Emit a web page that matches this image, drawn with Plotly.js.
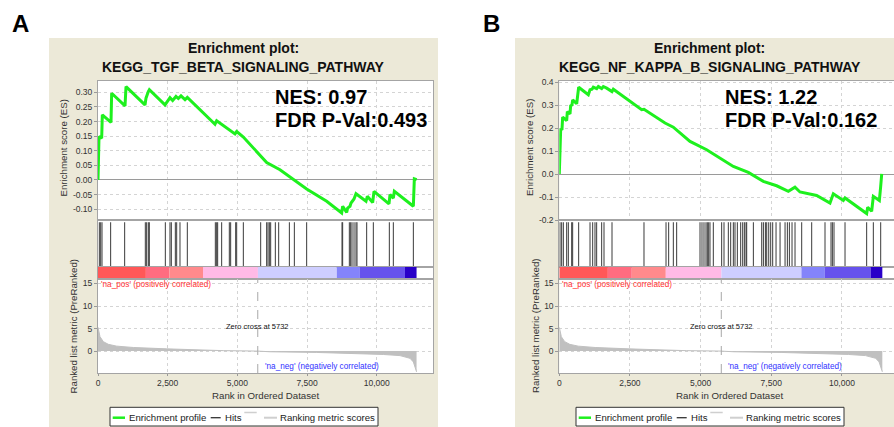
<!DOCTYPE html>
<html><head><meta charset="utf-8">
<script src="https://cdn.plot.ly/plotly-3.0.1.min.js"></script>
<style>html,body{margin:0;padding:0;background:#fff;}#chart{width:894px;height:427px;}</style>
</head><body><div id="chart"></div>
<script>
// ---------------- data ----------------
const panelLetters = ['A', 'B'];
const pathwayNames = ['KEGG_TGF_BETA_SIGNALING_PATHWAY', 'KEGG_NF_KAPPA_B_SIGNALING_PATHWAY'];
const nesValues = ['0.97', '1.22'];
const fdrValues = ['0.493', '0.162'];
const zeroCross = 5732;

const esRankA = [0, 36, 132, 155, 466, 490, 969, 1005, 1686, 1722, 1806, 1842, 2404, 2583, 2679, 2799, 2882, 2978, 3122, 3205, 4198, 4258, 4916, 4976, 5215, 6052, 6530, 7069, 7487, 8205, 8743, 8779, 8922, 8958, 9042, 9078, 9186, 9257, 9616, 9664, 9855, 9903, 10441, 10477, 10597, 10633, 11315, 11350, 11434];
const esScoreA = [0, 0.149, 0.143, 0.223, 0.197, 0.297, 0.254, 0.320, 0.257, 0.280, 0.303, 0.309, 0.257, 0.282, 0.272, 0.286, 0.279, 0.288, 0.275, 0.283, 0.191, 0.203, 0.158, 0.166, 0.147, 0.060, 0.035, -0.001, -0.031, -0.073, -0.113, -0.090, -0.111, -0.096, -0.090, -0.079, -0.065, -0.047, -0.073, -0.056, -0.077, -0.039, -0.082, -0.050, -0.062, -0.039, -0.090, 0.004, 0.001];
const hitsA = [48, 96, 144, 454, 957, 1698, 1746, 1806, 1842, 2416, 2583, 2631, 2775, 2823, 2942, 3205, 4210, 4258, 4294, 4437, 4712, 4760, 4940, 4976, 5215, 5837, 6052, 6100, 6148, 6196, 6363, 6483, 6866, 7045, 7487, 8755, 8779, 9018, 9066, 9114, 9186, 9257, 9293, 9640, 9879, 10453, 10597, 11315];

const esRankB = [0, 25, 48, 96, 119, 261, 284, 379, 402, 449, 473, 615, 685, 1027, 1087, 1157, 1204, 1322, 1381, 1499, 1558, 1676, 1865, 1912, 2915, 2997, 3741, 4034, 4625, 5214, 6158, 6689, 7219, 7691, 8104, 8339, 8516, 9106, 9578, 9696, 10050, 10110, 10876, 10912, 11053, 11112, 11325, 11372, 11408];
const esScoreB = [0, 0.098, 0.193, 0.196, 0.248, 0.233, 0.272, 0.262, 0.297, 0.301, 0.323, 0.306, 0.378, 0.345, 0.367, 0.369, 0.378, 0.372, 0.381, 0.372, 0.381, 0.374, 0.359, 0.369, 0.280, 0.282, 0.222, 0.204, 0.142, 0.106, 0.033, 0.007, -0.032, -0.051, -0.075, -0.057, -0.078, -0.093, -0.126, -0.086, -0.115, -0.104, -0.172, -0.145, -0.162, -0.097, -0.115, -0.054, 0.001];
const hitsB = [25, 84, 143, 261, 320, 438, 473, 685, 1087, 1181, 1263, 1322, 1499, 1582, 1865, 2997, 3776, 3870, 4035, 4153, 4979, 5049, 5120, 5191, 5238, 5285, 5332, 5450, 5745, 5828, 5981, 6064, 6158, 6217, 6300, 6418, 6489, 6548, 6607, 6631, 6867, 7162, 7221, 7292, 7339, 7410, 7480, 7551, 7669, 7811, 7988, 8070, 8141, 8235, 8341, 8577, 8931, 9402, 9614, 9662, 9720, 10110, 10876, 11112, 11372];

const metricRank = [0, 25, 72, 191, 371, 670, 1268, 2464, 3660, 4500, 5732, 6172, 7846, 9401, 10238, 10836, 11195, 11315, 11410, 11430];
const metricValue = [5.3, 4.2, 3.2, 2.1, 1.5, 1.1, 0.8, 0.5, 0.25, 0.1, 0, -0.15, -0.3, -0.5, -0.75, -1.0, -1.6, -2.4, -4.2, -4.6];

const colorBarEdges = [0, 1718, 2565, 3768, 5738, 8568, 9397, 11015, 11430];
const colorBarColors = ['rgb(255,88,88)', 'rgb(255,108,128)', 'rgb(255,138,140)', 'rgb(255,186,230)', 'rgb(206,206,255)', 'rgb(132,132,250)', 'rgb(102,82,236)', 'rgb(40,0,200)'];

const esTickValsA = [-0.10, -0.05, 0, 0.05, 0.10, 0.15, 0.20, 0.25, 0.30];
const esTickTextA = ['-0.10', '-0.05', '0.00', '0.05', '0.10', '0.15', '0.20', '0.25', '0.30'];
const esTickValsB = [-0.2, -0.1, 0, 0.1, 0.2, 0.3, 0.4];
const esTickTextB = ['-0.2', '-0.1', '0.0', '0.1', '0.2', '0.3', '0.4'];
const metricTickVals = [0, 5, 10, 15];
const metricTickText = ['0', '5', '10', '15'];
const rankTickVals = [0, 2500, 5000, 7500, 10000];
const rankTickText = ['0', '2,500', '5,000', '7,500', '10,000'];

// ---------------- layout geometry ----------------
const W = 894, H = 427;
const px = v => v / W;
const py = v => 1 - v / H;
const FONT = 'Liberation Sans, Arial, sans-serif';
const BEIGE = '#ECE9D8';
const FRAME = '#a4a4a4';
const GRID = '#d4d4d4';
const TOP = 81, ES_BOT = 220, HIT_BOT = 267, BAR_BOT = 279, MET_BOT = 373;

const panels = [
  { off: 0, plotL: 98, plotR: 433, xMax: 12020, esRange: [-0.137, 0.339], esTV: esTickValsA, esTT: esTickTextA,
    es: [esRankA, esScoreA], hits: hitsA, mirrorY: true, nesX: 272.7, esTitleX: 63.5, metTitleX: 72.5, letterX: 20.3, xTitleX: 265.5, beigeR: 438 },
  { off: 466, plotL: 559.3, plotR: 894, xMax: 11843, esRange: [-0.2, 0.405], esTV: esTickValsB, esTT: esTickTextB,
    es: [esRankB, esScoreB], hits: hitsB, mirrorY: false, nesX: 722.7, esTitleX: 530, metTitleX: 535, letterX: 491.7, xTitleX: 729, beigeR: 894 }
];

const data = [];
const layout = {
  width: W, height: H, margin: { l: 0, r: 0, t: 0, b: 0 },
  paper_bgcolor: '#ffffff', plot_bgcolor: 'rgba(0,0,0,0)',
  showlegend: false, barmode: 'overlay', font: { family: FONT, color: '#333' },
  shapes: [], annotations: []
};

function ann(o) {
  layout.annotations.push(Object.assign({ showarrow: false, xref: 'paper', yref: 'paper', xanchor: 'center', yanchor: 'middle',
    font: { family: FONT, size: 9.5, color: '#222' } }, o));
}

panels.forEach((p, k) => {
  const b = 4 * k + 1;
  const n = i => (i === 1 ? '' : String(i));
  const xs = [0, 1, 2, 3].map(j => 'x' + n(b + j));
  const ys = [0, 1, 2, 3].map(j => 'y' + n(b + j));
  const dom = [px(p.plotL), px(p.plotR)];
  const yDoms = [[py(ES_BOT), py(TOP)], [py(HIT_BOT), py(ES_BOT)], [py(BAR_BOT), py(HIT_BOT)], [py(MET_BOT), py(BAR_BOT)]];

  // background panels
  layout.shapes.push({ type: 'rect', layer: 'below', xref: 'paper', yref: 'paper', x0: px(49 + p.off), x1: px(p.beigeR), y0: 0, y1: py(38), fillcolor: BEIGE, line: { width: 0 } });
  layout.shapes.push({ type: 'rect', layer: 'below', xref: 'paper', yref: 'paper', x0: px(p.plotL), x1: px(p.plotR), y0: py(MET_BOT), y1: py(TOP), fillcolor: '#ffffff', line: { width: 0 } });

  for (let j = 0; j < 4; j++) {
    const xa = {
      domain: dom, anchor: ys[j], range: [0, p.xMax], showline: true, mirror: true, linecolor: FRAME, linewidth: 1,
      zeroline: false, fixedrange: true, tickvals: rankTickVals, ticktext: rankTickText,
      showticklabels: j === 3, ticks: j === 3 ? 'outside' : '', ticklen: 2, tickcolor: '#999',
      tickfont: { family: FONT, size: 8.5, color: '#333' },
      showgrid: (j === 0 || j === 3), gridcolor: GRID, griddash: 'dot', gridwidth: 1
    };
    const ya = { domain: yDoms[j], anchor: xs[j], showline: true, mirror: p.mirrorY, linecolor: FRAME, linewidth: 1, fixedrange: true, zeroline: false,
      tickfont: { family: FONT, size: 8.5, color: '#333' }, showgrid: false };
    if (j === 0) Object.assign(ya, { range: p.esRange, tickvals: p.esTV, ticktext: p.esTT, ticks: 'outside', ticklen: 3, tickcolor: '#999',
      showgrid: true, gridcolor: GRID, griddash: 'dot', zeroline: true, zerolinecolor: '#9a9a9a', zerolinewidth: 1 });
    if (j === 1) Object.assign(ya, { range: [0, 1.05], showticklabels: false, ticks: '' });
    if (j === 2) Object.assign(ya, { range: [-0.5, 0.5], showticklabels: false, ticks: '' });
    if (j === 3) Object.assign(ya, { range: [-4.86, 16.0], tickvals: metricTickVals, ticktext: metricTickText, ticks: 'outside', ticklen: 3, tickcolor: '#999',
      showgrid: true, gridcolor: GRID, griddash: 'dot' });
    layout['xaxis' + n(b + j)] = xa;
    layout['yaxis' + n(b + j)] = ya;
  }

  // ranked list metric (filled area)
  data.push({ type: 'scatter', mode: 'lines', x: metricRank, y: metricValue, xaxis: xs[3], yaxis: ys[3], fill: 'tozeroy',
    fillcolor: 'rgb(192,192,192)', line: { color: 'rgb(192,192,192)', width: 1 }, hoverinfo: 'skip' });
  // enrichment profile
  data.push({ type: 'scatter', mode: 'lines', x: p.es[0], y: p.es[1], xaxis: xs[0], yaxis: ys[0],
    line: { color: 'rgb(30,240,30)', width: 3 }, hoverinfo: 'skip' });
  // hits
  const hx = [], hy = [];
  p.hits.forEach(h => { hx.push(h, h, null); hy.push(0, 1, null); });
  data.push({ type: 'scatter', mode: 'lines', x: hx, y: hy, xaxis: xs[1], yaxis: ys[1], line: { color: '#3a3a3a', width: 1 }, hoverinfo: 'skip', connectgaps: false });
  // colour bar
  const starts = colorBarEdges.slice(0, -1);
  data.push({ type: 'bar', orientation: 'h', y: starts.map(() => 0), base: starts, x: starts.map((s, i) => colorBarEdges[i + 1] - s),
    width: 1, xaxis: xs[2], yaxis: ys[2], marker: { color: colorBarColors, line: { width: 0 } }, hoverinfo: 'skip' });

  // zero cross dashed line
  layout.shapes.push({ type: 'line', xref: xs[3], yref: ys[3] + ' domain', x0: zeroCross, x1: zeroCross, y0: 0, y1: 1,
    line: { color: '#a8a8a8', width: 1, dash: 'dash' } });

  // texts
  ann({ x: px(p.letterX), y: py(24), text: '<b>' + panelLetters[k] + '</b>', font: { family: FONT, size: 24, color: '#000' } });
  ann({ x: px(243.5 + p.off), y: py(47.5), text: '<b>Enrichment plot:</b>', font: { family: FONT, size: 14, color: '#111' } });
  ann({ x: px(243.5 + p.off), y: py(67), text: '<b>' + pathwayNames[k] + '</b>', font: { family: FONT, size: 14, color: '#111' } });
  ann({ x: px(p.nesX), y: py(96.5), xanchor: 'left', text: '<b>NES: ' + nesValues[k] + '</b>', font: { family: FONT, size: 20, color: '#000' } });
  ann({ x: px(p.nesX), y: py(120), xanchor: 'left', text: '<b>FDR P-Val:' + fdrValues[k] + '</b>', font: { family: FONT, size: 20, color: '#000' } });
  ann({ x: px(p.esTitleX), y: py(148), textangle: -90, text: 'Enrichment score (ES)', font: { family: FONT, size: 9.7, color: '#333' } });
  ann({ x: px(p.metTitleX), y: py(326), textangle: -90, text: 'Ranked list metric (PreRanked)', font: { family: FONT, size: 9.7, color: '#333' } });
  ann({ x: px(p.xTitleX), y: py(395), text: 'Rank in Ordered Dataset', font: { family: FONT, size: 9.7, color: '#333' } });
  ann({ x: px(p.plotL + 1), y: py(284.5), xanchor: 'left', text: "'na_pos' (positively correlated)", font: { family: FONT, size: 8.2, color: 'rgb(255,50,50)' } });
  ann({ xref: xs[3], x: zeroCross, xshift: 5, y: py(366), xanchor: 'left', text: "'na_neg' (negatively correlated)", font: { family: FONT, size: 8.2, color: 'rgb(50,50,255)' } });
  ann({ xref: xs[3], x: zeroCross, y: py(326), text: 'Zero cross at ' + zeroCross, font: { family: FONT, size: 7.5, color: '#111' } });

  // legend
  const o = p.off, ly = 417.7;
  layout.shapes.push({ type: 'rect', xref: 'paper', yref: 'paper', x0: px(110 + o), x1: px(378 + o), y0: py(426), y1: py(407.3), fillcolor: '#fff', line: { color: '#333', width: 1 } });
  layout.shapes.push({ type: 'line', xref: 'paper', yref: 'paper', x0: px(112.7 + o), x1: px(125 + o), y0: py(ly), y1: py(ly), line: { color: 'rgb(30,240,30)', width: 2.5 } });
  layout.shapes.push({ type: 'line', xref: 'paper', yref: 'paper', x0: px(210.7 + o), x1: px(220.7 + o), y0: py(ly), y1: py(ly), line: { color: '#333', width: 1.3 } });
  layout.shapes.push({ type: 'line', xref: 'paper', yref: 'paper', x0: px(244.3 + o), x1: px(256.7 + o), y0: py(412.5), y1: py(412.5), line: { color: '#cfcfcf', width: 1.5 } });
  layout.shapes.push({ type: 'line', xref: 'paper', yref: 'paper', x0: px(264 + o), x1: px(277 + o), y0: py(ly), y1: py(ly), line: { color: '#cfcfcf', width: 2 } });
  ann({ x: px(127 + o), y: py(ly), xanchor: 'left', text: 'Enrichment profile', font: { family: FONT, size: 9.6, color: '#222' } });
  ann({ x: px(222.6 + o), y: py(ly), xanchor: 'left', text: 'Hits', font: { family: FONT, size: 9.6, color: '#222' } });
  ann({ x: px(277.6 + o), y: py(ly), xanchor: 'left', text: 'Ranking metric scores', font: { family: FONT, size: 9.6, color: '#222' } });
});

Plotly.newPlot('chart', data, layout, { displayModeBar: false, staticPlot: true });
</script></body></html>
